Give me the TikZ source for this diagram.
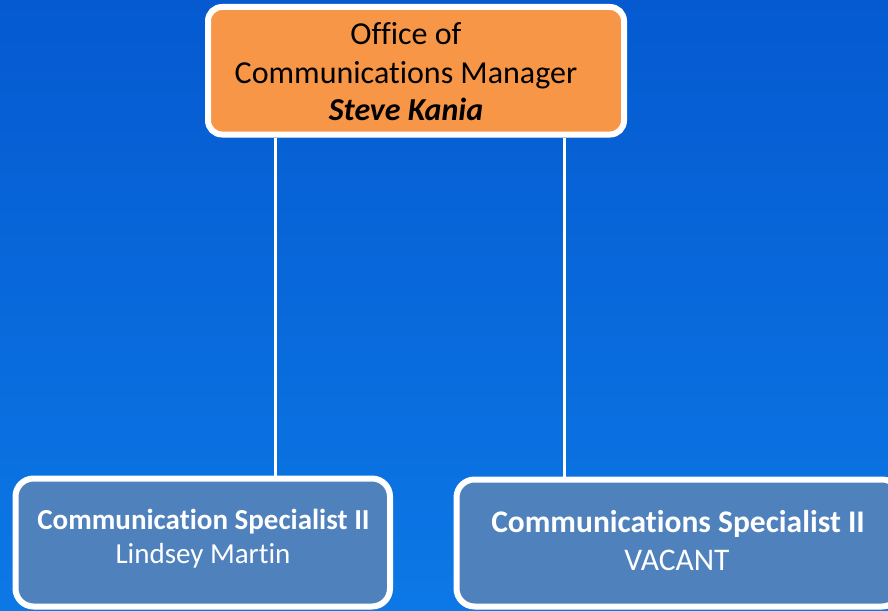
\documentclass[tikz,border=0pt]{standalone}
\usepackage{fontspec}
\setmainfont{Carlito}[Ligatures={NoCommon,NoContextual,NoRequired}]
\usetikzlibrary{shadows}
\definecolor{bgtop}{RGB}{5,90,208}
\definecolor{bgbot}{RGB}{12,120,230}
\definecolor{mgrfill}{RGB}{247,150,70}
\definecolor{specfill}{RGB}{79,129,189}
\begin{document}
\begin{tikzpicture}[x=1pt,y=-1pt,
  box/.style={draw=white, line width=6pt, rounded corners=14pt, inner sep=0pt,
    drop shadow={opacity=0.3, shadow xshift=2pt, shadow yshift=-3pt}},
  conn/.style={draw=white, line width=3pt},
  txt/.style={anchor=base, inner sep=0pt}]
% page and background
\useasboundingbox (0,0) rectangle (888,610);
\clip (0,0) rectangle (888,610);
\shade[top color=bgtop, bottom color=bgbot] (0,0) rectangle (888,610);

% boxes
\node[box, fill=mgrfill, minimum width=416pt, minimum height=127.5pt] (mgr) at (416,70.75) {};
\node[box, fill=specfill, rounded corners=18pt, minimum width=374.5pt, minimum height=128pt] (spl) at (202.75,542.5) {};
\node[box, fill=specfill, rounded corners=18pt, minimum width=443.5pt, minimum height=127pt] (spr) at (678.25,543) {};

% connectors
\coordinate (jl) at (275,0);
\coordinate (jr) at (564,0);
\draw[conn] (mgr.south -| jl) -- (spl.north -| jl);
\draw[conn] (mgr.south -| jr) -- (spr.north -| jr);

% labels
\node[txt, font=\fontsize{32}{38}\selectfont] (m1) at (406,45) {Office of};
\node[txt, font=\fontsize{32}{38}\selectfont] (m2) at (406,83) {Communications Manager};
\node[txt, font=\fontsize{32}{38}\selectfont\bfseries\itshape] (m3) at (406,120) {Steve Kania};

\node[txt, text=white, font=\fontsize{29}{34}\selectfont\bfseries] (l1) at (203.5,529) {Communication Specialist II};
\node[txt, text=white, font=\fontsize{29}{34}\selectfont] (l2) at (203,563) {Lindsey Martin};

\node[txt, text=white, font=\fontsize{31.5}{38}\selectfont\bfseries] (r1) at (678,532) {Communications Specialist II};
\node[txt, text=white, font=\fontsize{31.5}{38}\selectfont] (r2) at (677,570) {VACANT};
\end{tikzpicture}
\end{document}
